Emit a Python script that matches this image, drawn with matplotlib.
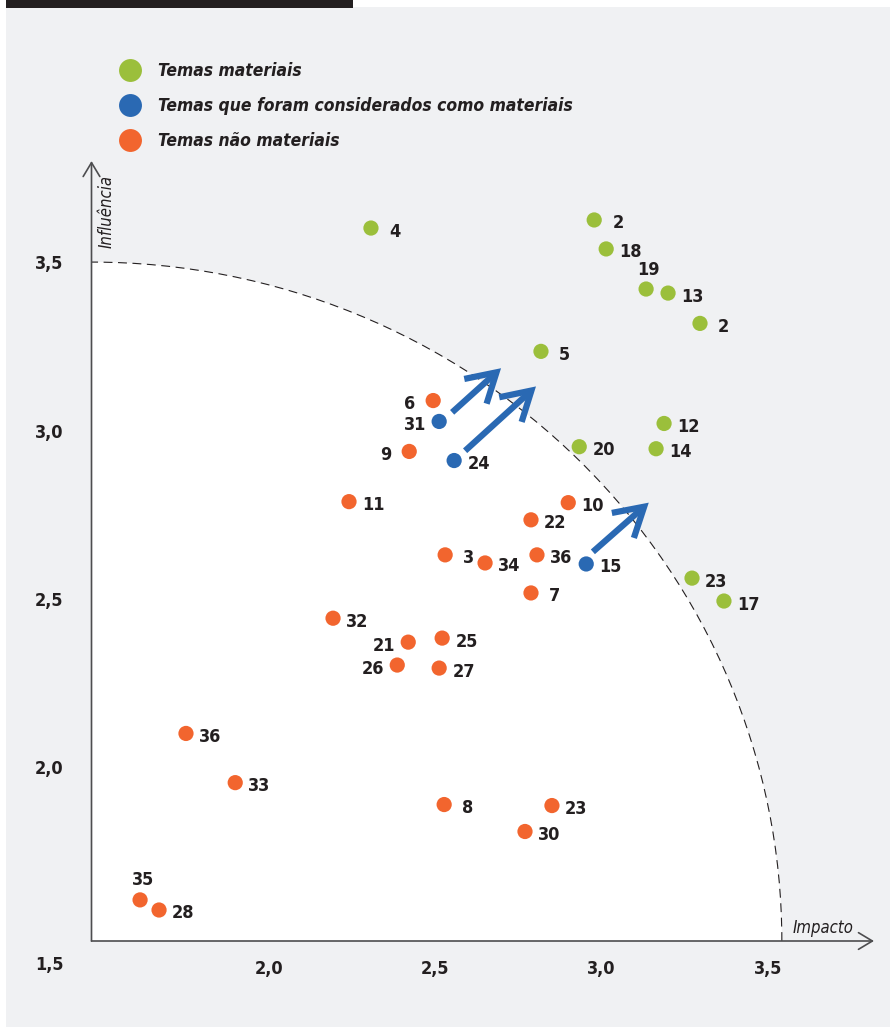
import matplotlib.pyplot as plt
from matplotlib.patches import Ellipse, Arc, Rectangle, FancyArrowPatch
from matplotlib.lines import Line2D

# Temas materiais (verde)
g_lbl = ['4', '2', '18', '19', '13', '2', '5', '12', '20', '14', '23', '17']
g_x = [2.307, 2.978, 3.014, 3.134, 3.200, 3.296, 2.818, 3.188, 2.933, 3.164, 3.272, 3.368]
g_y = [3.601, 3.625, 3.539, 3.420, 3.408, 3.318, 3.235, 3.021, 2.952, 2.946, 2.562, 2.494]
g_pos = ['r', 'r', 'r', 't', 'r', 'r', 'r', 'r', 'r', 'r', 'r', 'r']

# Temas que foram considerados como materiais (azul)
b_lbl = ['31', '24', '15']
b_x = [2.512, 2.557, 2.954]
b_y = [3.027, 2.911, 2.604]
b_pos = ['l', 'r', 'r']

# Temas nao materiais (laranja)
o_lbl = ['6', '9', '11', '10', '22', '3', '34', '36', '7', '32', '21', '25', '26', '27',
         '36', '33', '8', '23', '30', '35', '28']
o_x = [2.494, 2.422, 2.241, 2.900, 2.788, 2.530, 2.650, 2.806, 2.788, 2.193, 2.419, 2.521,
       2.386, 2.512, 1.751, 1.899, 2.527, 2.851, 2.770, 1.613, 1.670]
o_y = [3.089, 2.938, 2.789, 2.786, 2.735, 2.631, 2.607, 2.631, 2.518, 2.443, 2.372, 2.384,
       2.304, 2.295, 2.101, 1.955, 1.890, 1.887, 1.810, 1.607, 1.577]
o_pos = ['l', 'l', 'r', 'r', 'r', 'r', 'r', 'r', 'r', 'r', 'l', 'r', 'l', 'r',
         'r', 'r', 'r', 'r', 'r', 't', 'r']

# setas de reclassificacao (inicio -> fim)
arr_x0 = [2.551, 2.590, 2.974]
arr_y0 = [3.054, 2.940, 2.640]
arr_x1 = [2.698, 2.803, 3.142]
arr_y1 = [3.185, 3.131, 2.786]

legend_labels = ['Temas materiais', 'Temas que foram considerados como materiais',
                 'Temas não materiais']
xticks = [2.0, 2.5, 3.0, 3.5]
yticks = [2.0, 2.5, 3.0, 3.5]
tick_lbl = ['2,0', '2,5', '3,0', '3,5']

GREEN = '#9bbf3b'
BLUE = '#2a69b3'
ORANGE = '#f2652e'
INK = '#231f20'
BG = '#f0f1f3'
FONT = dict(family='DejaVu Sans', stretch='condensed')

x0, x1 = 1.467, 3.819
y0, y1 = 1.485, 3.80
rx, ry = 2.075, 2.015

W, H = 890, 1027
fig = plt.figure(figsize=(W / 100, H / 100), dpi=100)
fig.patch.set_facecolor('white')
fig.patches.append(Rectangle((6 / W, 0), 1, 1 - 7 / H, transform=fig.transFigure,
                             facecolor=BG, edgecolor='none', zorder=-10))
fig.patches.append(Rectangle((6 / W, 1 - 8 / H), 347 / W, 8 / H, transform=fig.transFigure,
                             facecolor=INK, edgecolor='none', zorder=-9))

ax = fig.add_axes([91.5 / W, 1 - 941 / H, (874 - 91.5) / W, (941 - 161) / H])
ax.set_xlim(x0, x1)
ax.set_ylim(y0, y1)
ax.patch.set_alpha(0)
for s in ax.spines.values():
    s.set_visible(False)

# area branca e arco tracejado
ax.add_patch(Ellipse((x0, y0), 2 * rx, 2 * ry, facecolor='white', edgecolor='none', zorder=0))
ax.add_patch(Arc((x0, y0), 2 * rx, 2 * ry, theta1=0, theta2=90, color=INK, lw=0.8,
                 linestyle=(0, (8, 5)), zorder=1))

# eixos com setas
for tgt in [(1, 0), (0, 1)]:
    ax.annotate('', xy=tgt, xytext=(0, 0), xycoords='axes fraction',
                arrowprops=dict(arrowstyle='->,head_length=0.5,head_width=0.3', lw=1.2,
                                color='#4d4d4f', shrinkA=0, shrinkB=0, mutation_scale=20))

ax.set_xticks(xticks)
ax.set_xticklabels(tick_lbl)
ax.set_yticks(yticks)
ax.set_yticklabels(tick_lbl)
ax.tick_params(axis='x', length=0, pad=14)
ax.tick_params(axis='y', length=0, pad=20)
for t in ax.get_xticklabels() + ax.get_yticklabels():
    t.set_family(FONT['family'])
    t.set_stretch(FONT['stretch'])
    t.set_fontweight('bold')
    t.set_fontsize(13)
    t.set_color(INK)
ax.annotate('1,5', xy=(0, 0), xycoords='axes fraction', xytext=(-30, -17),
            textcoords='offset points', ha='center', va='center', **FONT,
            fontweight='bold', fontsize=13, color=INK)

ax.text(0.935, 0.005, 'Impacto', transform=ax.transAxes, **FONT, style='italic',
        fontsize=12, color=INK, ha='center', va='bottom')
ax.text(0.008, 0.935, 'Influência', transform=ax.transAxes, **FONT, style='italic',
        fontsize=12, color=INK, rotation=90, ha='left', va='center')

# setas azuis
for xa, ya, xb, yb in zip(arr_x0, arr_y0, arr_x1, arr_y1):
    ax.add_patch(FancyArrowPatch((xa, ya), (xb, yb),
                                 arrowstyle='->,head_length=0.85,head_width=0.5',
                                 mutation_scale=24, lw=4.5, color=BLUE, zorder=3,
                                 shrinkA=0, shrinkB=0, capstyle='butt', joinstyle='miter'))


def draw(xs, ys, lbls, pos, color):
    ax.scatter(xs, ys, s=120, color=color, edgecolors='none', zorder=4)
    for x, y, t, p in zip(xs, ys, lbls, pos):
        d = 13 if len(t) == 1 else 9.5
        if p == 'r':
            off, ha = (d, -2.5), 'left'
        elif p == 'l':
            off, ha = (-d, -2.5), 'right'
        else:
            off, ha = (2, 14), 'center'
        ax.annotate(t, (x, y), xytext=off, textcoords='offset points', ha=ha, va='center',
                    **FONT, fontweight='bold', fontsize=13, color=INK, zorder=5)


draw(g_x, g_y, g_lbl, g_pos, GREEN)
draw(b_x, b_y, b_lbl, b_pos, BLUE)
draw(o_x, o_y, o_lbl, o_pos, ORANGE)

handles = [Line2D([], [], marker='o', ls='none', markersize=16.5, color=c, markeredgewidth=0)
           for c in [GREEN, BLUE, ORANGE]]
leg = fig.legend(handles, legend_labels, loc='upper left', bbox_to_anchor=(120 / W, 1 - 62 / H),
                 frameon=False, handletextpad=1.0, handlelength=1.2, labelspacing=0.98,
                 borderpad=0, borderaxespad=0,
                 prop=dict(family='DejaVu Sans', stretch='condensed', style='italic',
                           weight='bold', size=12.5))
for t in leg.get_texts():
    t.set_color(INK)

fig.savefig('out.png', dpi=100, facecolor=fig.get_facecolor())
